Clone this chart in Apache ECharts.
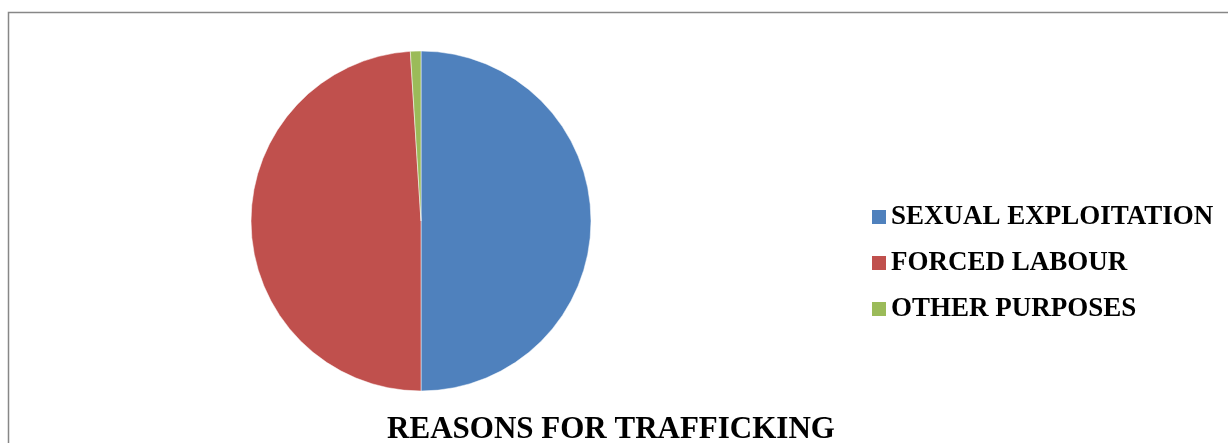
<!DOCTYPE html>
<html>
<head>
<meta charset="utf-8">
<script src="https://cdn.jsdelivr.net/npm/echarts@6/dist/echarts.min.js"></script>
<style>
html, body { margin: 0; padding: 0; background: #fff; }
#reasonsPie { width: 1228px; height: 443px; }
</style>
</head>
<body>
<div id="reasonsPie"></div>
<script>
// reasons for trafficking, share in percent
const reasonNames = ['SEXUAL EXPLOITATION', 'FORCED LABOUR', 'OTHER PURPOSES'];
const reasonShares = [50, 49, 1];
const reasonColors = ['#4F81BD', '#C0504D', '#9BBB59'];

let reasonsPie = echarts.init(document.getElementById('reasonsPie'));
let seriesData = [];
for (let i = 0; i < reasonNames.length; i++) {
    seriesData.push({
        name: reasonNames[i],
        value: reasonShares[i],
        itemStyle: { color: reasonColors[i] }
    });
}

const option = {
    backgroundColor: '#fff',
    animation: false,
    title: {
        text: 'REASONS FOR TRAFFICKING',
        left: 611,
        top: 414,
        textAlign: 'center',
        padding: 0,
        textStyle: {
            fontFamily: 'Liberation Serif',
            fontWeight: 'bold',
            fontSize: 31,
            color: '#000'
        }
    },
    legend: {
        orient: 'vertical',
        left: 872,
        top: 202,
        padding: 0,
        itemWidth: 14,
        itemHeight: 14,
        itemGap: 16,
        icon: 'rect',
        itemStyle: { borderWidth: 0 },
        textStyle: {
            fontFamily: 'Liberation Serif',
            fontWeight: 'bold',
            fontSize: 27,
            lineHeight: 30,
            color: '#000'
        },
        data: reasonNames
    },
    graphic: [{
        type: 'rect',
        shape: { x: 8.5, y: 12.5, width: 1240, height: 450 },
        style: { fill: 'none', stroke: '#878787', lineWidth: 1.5 },
        silent: true
    }],
    series: [{
        name: 'Reasons',
        type: 'pie',
        center: [421, 221],
        radius: 170,
        startAngle: 90,
        label: { show: false },
        labelLine: { show: false },
        itemStyle: { borderColor: '#fff', borderWidth: 0.5 },
        data: seriesData
    }]
};

reasonsPie.setOption(option);
</script>
</body>
</html>
